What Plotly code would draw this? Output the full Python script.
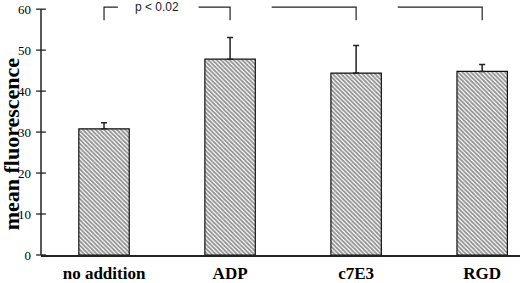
import plotly.graph_objects as go

# ---- data ----
categories = ["no addition", "ADP", "c7E3", "RGD"]
means = [30.8, 47.8, 44.4, 44.8]
errors_up = [1.5, 5.3, 6.7, 1.7]
y_ticks = [0, 10, 20, 30, 40, 50, 60]
y_title = "mean fluorescence"
p_label = "p < 0.02"
# significance bracket segments (category units): start, end, which end has the drop
bracket_start = [0.0, 0.75, 1.33, 2.33]
bracket_end = [0.11, 1.0, 2.0, 3.0]
bracket_drop_at = [0.0, 1.0, 2.0, 3.0]
bracket_top = 60.5
bracket_bottom = 57.3
p_label_x = 0.42

xpos = list(range(len(categories)))
serif = "Liberation Serif, Times New Roman, serif"

fig = go.Figure()
fig.add_trace(go.Bar(
    x=xpos, y=means, width=0.4,
    marker=dict(color="white",
                line=dict(color="#111", width=1.2),
                pattern=dict(shape="\\", size=3, solidity=0.6,
                             fgcolor="#222", bgcolor="white")),
    error_y=dict(type="data", array=errors_up, arrayminus=[0]*len(errors_up),
                 symmetric=False, color="#222", thickness=1.5, width=3),
    showlegend=False, hoverinfo="skip",
))

# brackets
for s, e, d in zip(bracket_start, bracket_end, bracket_drop_at):
    if d == s:
        xs, ys = [d, d, e], [bracket_bottom, bracket_top, bracket_top]
    else:
        xs, ys = [s, d, d], [bracket_top, bracket_top, bracket_bottom]
    fig.add_trace(go.Scatter(x=xs, y=ys, mode="lines",
                             line=dict(color="#222", width=1.2),
                             showlegend=False, hoverinfo="skip"))

# y-axis tick crosses
fig.add_trace(go.Scatter(
    x=[-0.5]*len(y_ticks), y=y_ticks, mode="markers",
    marker=dict(symbol="line-ew", size=7, line=dict(color="#111", width=1.2)),
    cliponaxis=False, showlegend=False, hoverinfo="skip"))

fig.add_annotation(x=p_label_x, y=bracket_top, text=p_label, showarrow=False,
                   xanchor="center", yanchor="middle",
                   font=dict(family="Liberation Sans, Arial, sans-serif", size=12, color="#222"))

fig.add_annotation(xref="paper", yref="y", x=0, y=27, xshift=-30,
                   text="<b>" + y_title + "</b>", textangle=-90, showarrow=False,
                   xanchor="center", yanchor="middle",
                   font=dict(family=serif, size=22, color="black"))

fig.add_shape(type="line", xref="paper", yref="y", x0=0, x1=0, y0=0, y1=max(y_ticks),
              line=dict(color="#222", width=1.5))

fig.update_layout(
    width=520, height=283,
    margin=dict(l=41, r=0, t=3, b=26),
    paper_bgcolor="white", plot_bgcolor="white",
    xaxis=dict(range=[-0.5, 3.3], tickvals=xpos,
               ticktext=["<b>" + c + "</b>" for c in categories],
               showgrid=False, zeroline=False, showline=True, linecolor="#222",
               linewidth=1.5, ticks="", ticklabelstandoff=2,
               tickfont=dict(family=serif, size=17, color="black")),
    yaxis=dict(range=[0, 61.5], tickvals=y_ticks, showgrid=False, zeroline=False,
               showline=False, ticks="", ticklabelstandoff=9,
               tickfont=dict(family=serif, size=13, color="black")),
)

fig.write_html("out.html", config={"displayModeBar": False},
               post_script="document.body.style.margin='0';")
